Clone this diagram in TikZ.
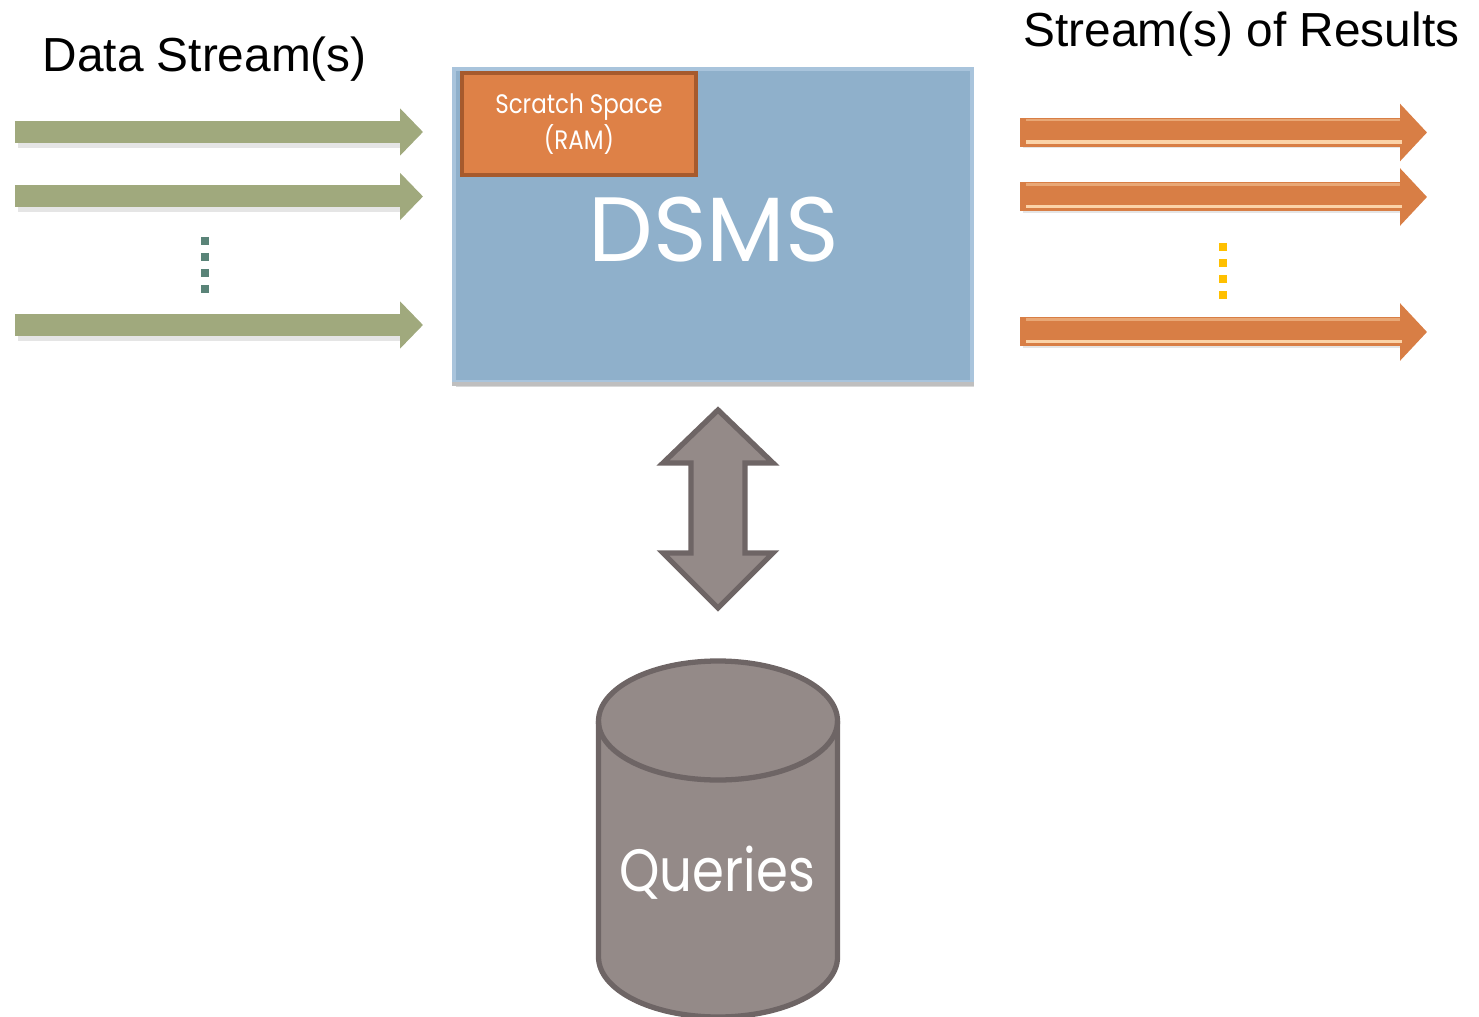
\documentclass[tikz,border=0pt]{standalone}
\usepackage{fontspec}
\setmainfont{Liberation Sans}
\newfontfamily\twfont[FakeStretch=0.86]{Poppins}
\newfontfamily\bigfont{Poppins}
\usepackage{tikz}
\usetikzlibrary{calc}
\usetikzlibrary{arrows.meta}
\usetikzlibrary{positioning}
\usetikzlibrary{shadows}

\definecolor{instream}{HTML}{A0A97D}
\definecolor{indots}{HTML}{5A8478}
\definecolor{outstream}{HTML}{D87E45}
\definecolor{outshine}{HTML}{FBD3A8}
\definecolor{outdots}{HTML}{FFC000}
\definecolor{dsmsfill}{HTML}{8FB0CB}
\definecolor{dsmsline}{HTML}{A9C4DC}
\definecolor{ramfill}{HTML}{DE8147}
\definecolor{ramline}{HTML}{A65A2D}
\definecolor{qfill}{HTML}{948A88}
\definecolor{qline}{HTML}{6E6565}

\tikzstyle{inarrow} = [draw=instream, line width=0.22cm,
  -{Triangle[width=0.46cm, length=0.23cm]}]
\tikzstyle{outarrow} = [draw=outstream, line width=0.29cm,
  -{Triangle[width=0.56cm, length=0.27cm]}]
\tikzstyle{streamshadow} = [draw=black, opacity=0.10, line width=0.22cm]
\tikzstyle{label} = [draw=none, inner sep=0, font=\fontsize{13.6}{16}\selectfont]

\begin{document}
\begin{tikzpicture}
\useasboundingbox (0,0) rectangle (14.79,-10.17);

% titles
\node [label, anchor=base west] (datalbl) at (0.42,-0.72) {Data Stream(s)};
\node [label, anchor=base west] (reslbl) at (10.23,-0.47) {Stream(s) of Results};

% the DSMS box
\node [draw=dsmsline, fill=dsmsfill, line width=1.2pt, minimum width=5.18cm,
  minimum height=3.13cm, inner sep=0,
  drop shadow={shadow xshift=0.02cm, shadow yshift=-0.05cm, opacity=0.3}]
  (dsms) at (7.13,-2.255) {};
\draw [draw=black!25, line width=1pt] (dsms.south west) -- (dsms.south east);
\node [draw=ramline, fill=ramfill, line width=1.3pt, minimum width=2.34cm,
  minimum height=1.02cm, inner sep=0, text=white, align=center,
  font=\twfont\fontsize{7.6}{10.2}\selectfont]
  (ram) at (5.79,-1.24) {Scratch Space\\(RAM)};
\node [text=white, inner sep=0, font=\bigfont\fontsize{26}{30}\selectfont,
  anchor=base] (dsmslbl) at (7.14,-2.62) {DSMS};

% input streams
\coordinate (in1s) at (0.15,-1.32);
\coordinate (in1e) at (4.23,-1.32);
\coordinate (in2s) at (0.15,-1.965);
\coordinate (in2e) at (4.23,-1.965);
\coordinate (in3s) at (0.15,-3.25);
\coordinate (in3e) at (4.23,-3.25);
\foreach \s in {1,2,3} {
  \draw [streamshadow] ($(in\s s)+(0.03,-0.05)$) -- ($(in\s e)+(-0.2,-0.05)$);
  \draw [inarrow] (in\s s) -- (in\s e);
}
\draw [draw=indots, line width=0.08cm, dash pattern=on 0.08cm off 0.08cm]
  (2.05,-2.37) -- (2.05,-2.93);

% result streams
\coordinate (out1s) at (10.20,-1.325);
\coordinate (out1e) at (14.27,-1.325);
\coordinate (out2s) at (10.20,-1.97);
\coordinate (out2e) at (14.27,-1.97);
\coordinate (out3s) at (10.20,-3.32);
\coordinate (out3e) at (14.27,-3.32);
\foreach \s in {1,2,3} {
  \draw [streamshadow] ($(out\s s)+(0.03,-0.05)$) -- ($(out\s e)+(-0.25,-0.05)$);
  \draw [outarrow] (out\s s) -- (out\s e);
  \draw [draw=outshine, line width=1.1pt] ($(out\s s)+(0.06,-0.095)$) -- ($(out\s e)+(-0.25,-0.095)$);
  \draw [draw=outshine, opacity=0.5, line width=0.6pt] ($(out\s s)+(0.06,0.125)$) -- ($(out\s e)+(-0.27,0.125)$);
}
\draw [draw=outdots, line width=0.08cm, dash pattern=on 0.08cm off 0.08cm]
  (12.23,-2.43) -- (12.23,-2.99);

% two-way link
\coordinate (link) at (7.18,-5.09);
\draw [draw=qline, fill=qfill, line width=1.5pt, line join=miter]
  ($(link)+(0,0.99)$) -- ($(link)+(0.55,0.46)$) -- ($(link)+(0.27,0.46)$)
  -- ($(link)+(0.27,-0.44)$) -- ($(link)+(0.55,-0.44)$) -- ($(link)+(0,-0.99)$)
  -- ($(link)+(-0.55,-0.44)$) -- ($(link)+(-0.27,-0.44)$) -- ($(link)+(-0.27,0.46)$)
  -- ($(link)+(-0.55,0.46)$) -- cycle;

% queries store
\draw [draw=qline, fill=qfill, line width=1.5pt]
  (5.985,-7.21) -- (5.985,-9.57) arc (180:360:1.195 and 0.6)
  -- (8.375,-7.21) arc (0:180:1.195 and 0.6) -- cycle;
\draw [draw=qline, line width=1.5pt] (5.985,-7.21) arc (180:360:1.195 and 0.59);
\node [text=white, inner sep=0, font=\twfont\fontsize{17}{20}\selectfont,
  anchor=base] (qlbl) at (7.17,-8.91) {Queries};
\end{tikzpicture}
\end{document}
